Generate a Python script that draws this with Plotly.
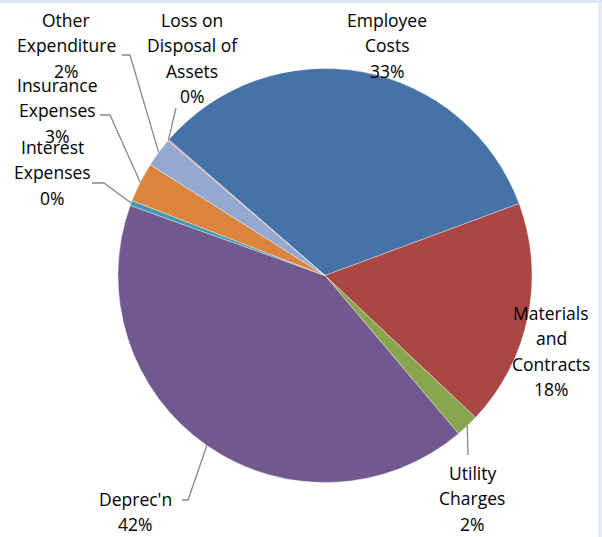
import math
import plotly.graph_objects as go

categories = ["Employee Costs", "Materials and Contracts", "Utility Charges", "Deprec'n",
              "Interest Expenses", "Insurance Expenses", "Other Expenditure",
              "Loss on Disposal of Assets"]
values = [33.0, 17.7, 1.8, 41.7, 0.4, 3.1, 2.3, 0.1]
label_lines = [["Employee", "Costs"], ["Materials", "and", "Contracts"], ["Utility", "Charges"],
               ["Deprec'n"], ["Interest", "Expenses"], ["Insurance", "Expenses"],
               ["Other", "Expenditure"], ["Loss on", "Disposal of", "Assets"]]
colors = ["#4572A7", "#AA4643", "#89A54E", "#71588F", "#4198AF", "#DB843D", "#93A9CF", "#D19392"]

W, H = 602, 537
CX, CY, R = 325, 275.5, 207
ROTATION = -49
LINE_H = 25.3

# label anchor: (center x, first line y) in pixels
label_pos = [(387, 20), (551, 313), (472, 473), (135, 499), (52, 147), (57, 85), (66, 20), (192, 20)]
# leader line points on label side (pixels)
leader_pts = [None, None, [(468, 455)], [(182, 500), (188, 500)], [(92, 183), (104, 183)],
              [(100, 115), (110, 115)], [(122, 55), (130, 55)], [(176, 108)]]


def px(x):
    return x / W


def py(y):
    return 1 - y / H


total = sum(values)
fig = go.Figure(go.Pie(
    labels=categories, values=values, sort=False, direction="clockwise",
    rotation=ROTATION, textinfo="none", hoverinfo="label+percent",
    marker=dict(colors=colors, line=dict(color="rgba(255,255,255,0.6)", width=0.6)),
    domain=dict(x=[px(CX - R), px(CX + R)], y=[py(CY + R), py(CY - R)]),
    showlegend=False,
))

annotations = []
shapes = []
cum = 0.0
for i, v in enumerate(values):
    mid = math.radians(ROTATION + 360 * (cum + v / 2) / total)
    cum += v
    lines = label_lines[i] + [f"{round(100 * v / total)}%"]
    lx, ly = label_pos[i]
    for k, t in enumerate(lines):
        annotations.append(dict(x=px(lx), y=py(ly + k * LINE_H), xref="paper", yref="paper",
                                text=t, showarrow=False, xanchor="center", yanchor="middle",
                                font=dict(family="Open Sans", size=17.5, color="#000000")))
    if leader_pts[i]:
        ex, ey = CX + R * math.sin(mid), CY - R * math.cos(mid)
        pts = leader_pts[i] + [(ex, ey)]
        path = "M " + " L ".join(f"{px(a):.5f},{py(b):.5f}" for a, b in pts)
        shapes.append(dict(type="path", path=path, xref="paper", yref="paper",
                           line=dict(color="#888888", width=1.3)))

# frame strips
shapes.append(dict(type="rect", xref="paper", yref="paper", x0=0, x1=1, y0=py(3), y1=1,
                   fillcolor="#DCE6F2", line=dict(width=0), layer="below"))
shapes.append(dict(type="rect", xref="paper", yref="paper", x0=px(598.5), x1=px(601.5), y0=0, y1=1,
                   fillcolor="#DCE6F2", line=dict(width=0), layer="below"))

fig.update_layout(width=W, height=H, margin=dict(l=0, r=0, t=0, b=0),
                  paper_bgcolor="white", plot_bgcolor="white",
                  annotations=annotations, shapes=shapes)
fig.write_html("out.html")
